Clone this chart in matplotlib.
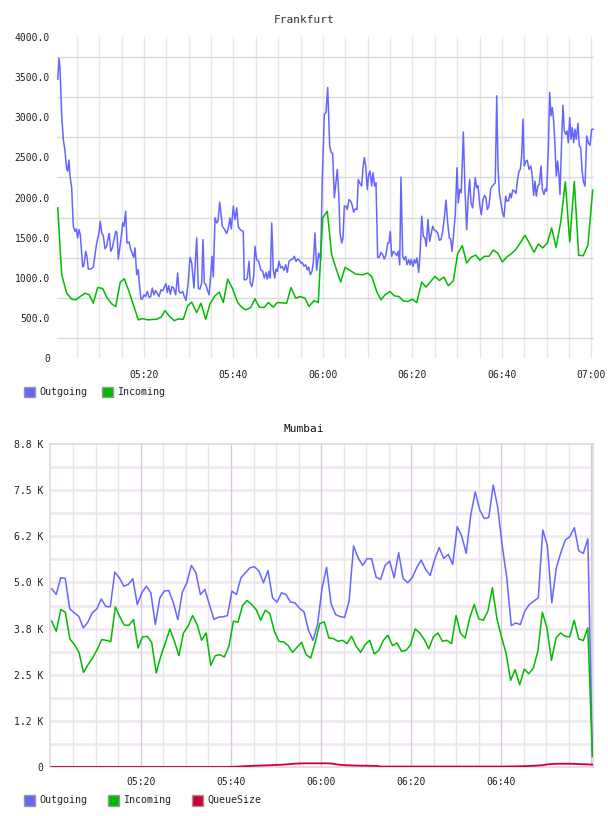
import numpy as np
import matplotlib
matplotlib.use('Agg')
import matplotlib.pyplot as plt
from matplotlib.patches import Rectangle

W, H = 608, 816

# Frankfurt: (minutes after 05:00, value)
fra_out = [(0.72,3475),(1.01,3733),(1.23,3608),(1.61,3017),(1.97,2725),(2.35,2579),(2.73,2350),(2.95,2329),(3.24,2467),(3.46,2267),(3.84,2121),(4.20,1642),(4.58,1579),(4.87,1608),(5.18,1496),(5.47,1600),(5.77,1537),(6.30,1133),(6.59,1158),(6.97,1329),(7.26,1267),(7.55,1108),(8.16,1108),(8.67,1133),(9.43,1433),(9.94,1558),(10.23,1704),(10.55,1558),(10.91,1525),(11.28,1362),(11.66,1392),(12.02,1508),(12.25,1550),(12.56,1329),(12.92,1371),(13.30,1475),(13.68,1579),(13.97,1558),(14.26,1233),(14.64,1392),(15.02,1558),(15.24,1683),(15.53,1642),(15.91,1829),(16.20,1433),(16.65,1446),(17.03,1350),(17.39,1300),(17.70,1254),(17.99,1371),(18.37,1037),(18.73,1100),(18.95,933),(19.33,733),(19.62,733),(20.00,787),(20.38,766),(20.74,829),(21.12,758),(21.50,766),(21.85,871),(22.23,787),(22.61,841),(22.97,808),(23.35,766),(23.80,850),(24.18,837),(24.54,883),(24.92,925),(25.21,816),(25.52,900),(25.88,796),(26.26,891),(26.64,871),(27.08,787),(27.53,1058),(27.82,829),(28.20,808),(28.65,829),(29.01,766),(29.39,716),(29.90,954),(30.28,1254),(30.66,1183),(31.17,871),(31.46,1183),(31.78,1496),(32.13,871),(32.51,858),(32.89,933),(33.18,1475),(33.48,933),(33.85,912),(34.15,850),(34.53,787),(34.90,1025),(35.20,1267),(35.49,1008),(35.87,1746),(36.25,1683),(36.54,1704),(36.92,1942),(37.21,1787),(37.50,1642),(37.94,1608),(38.48,1550),(38.93,1642),(39.22,1746),(39.51,1608),(39.96,1892),(40.34,1725),(40.72,1871),(41.07,1633),(41.61,1592),(42.19,1579),(42.41,975),(42.79,975),(43.08,996),(43.46,1204),(43.75,933),(44.13,891),(44.51,1016),(44.80,1392),(45.18,1225),(45.63,1204),(46.08,1100),(46.53,1079),(46.88,996),(47.26,1067),(47.55,983),(47.93,1079),(48.22,996),(48.54,1683),(48.89,1100),(49.21,996),(49.50,1108),(49.79,1079),(50.17,1204),(50.55,1121),(50.91,1142),(51.28,1092),(51.66,1162),(52.02,1067),(52.40,1204),(52.85,1225),(53.23,1233),(53.59,1267),(53.97,1204),(54.35,1233),(54.70,1217),(55.08,1183),(55.37,1192),(55.75,1142),(56.13,1162),(56.49,1100),(56.80,1133),(57.16,1037),(57.54,1079),(57.83,1183),(58.21,1558),(58.59,1092),(59.04,1308),(59.49,1225),(59.84,2225),(60.29,3037),(60.67,3058),(61.05,3371),(61.50,2642),(61.86,2558),(62.17,2550),(62.53,1996),(62.91,2204),(63.20,2350),(63.51,2058),(63.80,1558),(64.18,1433),(64.47,1496),(64.76,1892),(65.14,1892),(65.43,1850),(65.81,1975),(66.19,1954),(66.48,1912),(66.86,1817),(67.22,1858),(67.60,1850),(67.89,2225),(68.27,2175),(68.65,2142),(68.94,2371),(69.23,2496),(69.55,2392),(69.90,2100),(70.21,2287),(70.50,2329),(70.88,2142),(71.17,2308),(71.55,2142),(71.84,2183),(72.22,1254),(72.58,1254),(72.96,1317),(73.34,1287),(73.70,1233),(74.08,1287),(74.46,1433),(74.75,1433),(75.04,1579),(75.35,1267),(75.71,1329),(76.09,1308),(76.47,1275),(76.83,1329),(77.14,1162),(77.43,2254),(77.81,1267),(78.17,1225),(78.48,1267),(78.77,1162),(79.15,1225),(79.44,1162),(79.73,1225),(80.11,1142),(80.40,1225),(80.71,1183),(81.01,1246),(81.39,1067),(81.68,1287),(82.06,1767),(82.41,1517),(82.79,1496),(83.08,1392),(83.46,1725),(83.84,1454),(84.20,1558),(84.51,1642),(84.87,1592),(85.25,1583),(85.63,1558),(85.99,1467),(86.37,1475),(86.75,1579),(87.11,1746),(87.49,1967),(87.87,1683),(88.22,1496),(88.54,1483),(88.83,1329),(89.21,1558),(89.56,1787),(89.94,2371),(90.24,1933),(90.55,2100),(90.89,2058),(91.36,2815),(91.73,2100),(92.11,1600),(92.47,2017),(92.78,2225),(93.07,1933),(93.45,1871),(93.74,2058),(94.03,2246),(94.35,2121),(94.64,2150),(95.02,1912),(95.37,1787),(95.75,1975),(96.13,2025),(96.42,1996),(96.71,1850),(97.09,1892),(97.47,2108),(97.83,2142),(98.14,2162),(98.50,2183),(98.82,3267),(99.11,2392),(99.40,2058),(99.78,1933),(100.16,1800),(100.45,1758),(100.83,2017),(101.12,1954),(101.50,1962),(101.79,2050),(102.08,1996),(102.39,2092),(102.75,2083),(103.13,2050),(103.42,2204),(103.80,2329),(104.09,2350),(104.40,2517),(104.69,2975),(104.98,2392),(105.36,2454),(105.65,2463),(106.03,2350),(106.41,2392),(106.70,2308),(107.08,2025),(107.37,2204),(107.66,2017),(108.04,2150),(108.34,2162),(108.72,2392),(109.01,2100),(109.39,2037),(109.68,2108),(109.99,2079),(110.35,2600),(110.66,3308),(110.95,3017),(111.24,3121),(111.55,2954),(111.84,2642),(112.13,2267),(112.44,2454),(112.74,2267),(112.96,2037),(113.34,2725),(113.63,3150),(113.92,2829),(114.24,2787),(114.53,2829),(114.82,2683),(115.13,2996),(115.42,2725),(115.71,2871),(116.02,2683),(116.31,2850),(116.60,2725),(116.98,2925),(117.27,2642),(117.59,2621),(117.88,2350),(118.17,2204),(118.55,2142),(118.93,2767),(119.28,2683),(119.66,2650),(120.04,2850),(120.40,2850)]

fra_in = [(0.72,1871),(1.61,1037),(2.73,808),(3.84,733),(4.74,725),(5.77,766),(6.82,808),(7.78,787),(8.67,683),(9.65,879),(10.77,866),(11.66,758),(12.78,675),(13.68,641),(14.70,946),(15.60,987),(16.65,829),(17.70,650),(18.73,475),(19.62,491),(20.96,475),(21.85,480),(22.84,483),(23.80,508),(24.69,591),(25.59,525),(26.77,466),(27.66,487),(28.78,483),(29.77,650),(30.66,696),(31.78,566),(32.74,683),(33.79,483),(34.75,675),(35.87,775),(36.83,821),(37.72,691),(38.70,983),(39.73,871),(40.94,691),(41.83,633),(42.73,600),(43.84,629),(44.80,737),(45.77,633),(46.82,629),(47.78,691),(48.89,633),(49.79,691),(50.84,687),(51.89,683),(52.85,879),(53.90,746),(54.86,766),(55.98,746),(56.87,641),(57.99,716),(58.95,691),(59.93,1746),(60.96,1829),(61.94,1287),(62.91,1116),(63.96,946),(64.92,1129),(66.03,1091),(67.31,1046),(68.78,1037),(69.99,1058),(70.88,1016),(72.00,829),(72.96,725),(73.85,787),(74.97,829),(75.93,775),(76.98,766),(77.94,712),(78.93,704),(79.96,733),(80.94,691),(82.06,946),(83.02,883),(84.07,954),(85.03,1016),(85.99,966),(87.04,1008),(88.00,900),(89.12,962),(90.10,1300),(91.13,1400),(92.11,1183),(93.07,1254),(94.12,1283),(95.08,1217),(96.04,1267),(97.09,1267),(98.06,1346),(99.04,1308),(100.07,1196),(101.05,1258),(102.01,1296),(103.06,1350),(104.02,1429),(105.14,1529),(106.10,1433),(107.15,1317),(108.11,1421),(109.09,1371),(110.12,1433),(111.10,1621),(112.07,1379),(113.12,1692),(114.15,2196),(115.13,1446),(116.16,2200),(117.14,1279),(118.17,1275),(119.22,1412),(120.27,2092)]

fra_yticks = [0, 500, 1000, 1500, 2000, 2500, 3000, 3500, 4000]
fra_ylabels = ['0', '500.0', '1000.0', '1500.0', '2000.0', '2500.0', '3000.0', '3500.0', '4000.0']

# Mumbai: one sample a minute, first at 05:00:10, last at 07:00:18
mum_first, mum_last = 0.16, 120.3
mum_out = [4828, 4673, 5127, 5108, 4284, 4176, 4084, 3768, 3921, 4176,
           4284, 4550, 4350, 4339, 5280, 5127, 4899, 4945, 5099, 4400,
           4720, 4900, 4720, 3860, 4580, 4770, 4780, 4450, 3990, 4740,
           4990, 5460, 5260, 4670, 4810, 4400, 4000, 4057, 4070, 4100,
           4763, 4673, 5127, 5262, 5398, 5425, 5307, 4990, 5325, 4583,
           4465, 4719, 4673, 4465, 4447, 4300, 4200, 3700, 3430, 3860,
           4836, 5407, 4429, 4130, 4076, 4048, 4492, 5986, 5670, 5461,
           5643, 5643, 5143, 5081, 5461, 5578, 5127, 5806, 5108, 4990,
           5127, 5398, 5606, 5352, 5189, 5624, 5942, 5651, 5760, 5488,
           6513, 6257, 5787, 6820, 7453, 6964, 6730, 6757, 7635, 7029,
           5986, 5127, 3831, 3903, 3858, 4220, 4402, 4492, 4583, 6420,
           6005, 4450, 5398, 5806, 6149, 6241, 6485, 5851, 5787, 6186,
           300]
mum_in = [3949, 3677, 4266, 4193, 3469, 3315, 3106, 2563, 2771, 2952,
          3179, 3451, 3433, 3396, 4338, 4066, 3840, 3840, 3994, 3224,
          3523, 3541, 3378, 2545, 2998, 3360, 3740, 3405, 3016, 3632,
          3813, 4103, 3858, 3433, 3632, 2753, 3016, 3043, 2980, 3270,
          3949, 3922, 4374, 4510, 4402, 4266, 3976, 4248, 4157, 3677,
          3405, 3387, 3297, 3106, 3243, 3378, 3043, 2952,
          3378, 3885, 3931, 3496, 3478, 3405, 3433, 3342, 3541, 3270,
          3106, 3315, 3433, 3061, 3161, 3433, 3569, 3288, 3360, 3134,
          3161, 3315, 3740, 3632, 3451, 3206, 3523, 3632, 3405, 3433,
          3342, 4103, 3614, 3496, 4039, 4402, 4012, 3976, 4221, 4855,
          4012, 3523, 3088, 2346, 2635, 2228, 2653, 2527, 2680, 3134,
          4193, 3767, 2889, 3496, 3632, 3541, 3523, 3976, 3469, 3424,
          3767, 281]
mum_queue = [0] * 40 + [5, 10, 15, 22, 28, 34, 38, 42, 46, 50,
                        54, 62, 70, 80, 90, 95, 100, 100, 100, 100,
                        100, 100, 95, 75, 60, 50, 45, 40, 38, 36,
                        34, 32, 30] + [12] * 28 + [
                        14, 16, 18, 20, 24, 28, 34, 40, 50, 70,
                        82, 88, 88, 88, 88, 85, 80, 75, 70, 65]
mum_yticks = [0, 1250, 2500, 3750, 5000, 6250, 7500, 8750]
mum_ylabels = ['0', '1.2 K', '2.5 K', '3.8 K', '5.0 K', '6.2 K', '7.5 K', '8.8 K']

series_names = ['Outgoing', 'Incoming', 'QueueSize']
colors = ['#6666ff', '#00bb00', '#cc0033']
time_ticks = [20, 40, 60, 80, 100, 120]


def hhmm(m):
    return '%02d:%02d' % (5 + m // 60, m % 60)


def draw_legend(fig, y_px, names, cols, xs):
    for name, c, x in zip(names, cols, xs):
        fig.add_artist(Rectangle((x / W, 1 - (y_px + 5.5) / H), 11 / W, 11 / H,
                                 transform=fig.transFigure, facecolor=c,
                                 edgecolor='#999999', lw=1))
        fig.text((x + 15) / W, 1 - y_px / H, name, va='center', ha='left',
                 fontsize=7.2, color='#222222')


plt.rcParams['font.family'] = ['DejaVu Sans Mono']
fig = plt.figure(figsize=(W / 100, H / 100), dpi=100)

# ---------------- Frankfurt ----------------
ax1 = fig.add_axes([57 / W, 1 - 358 / H, (594 - 57) / W, (358 - 37) / H])
fo = np.array(fra_out)
fi = np.array(fra_in)
for m in range(5, 121, 5):
    ax1.axvline(m, color='#e6e6e6', lw=1, zorder=0)
for v in range(250, 4000, 500):
    ax1.axhline(v, color='#dadada', lw=1, zorder=0)
ax1.plot(fo[:, 0], fo[:, 1], color=colors[0], lw=1.1, zorder=3)
ax1.plot(fi[:, 0], fi[:, 1], color=colors[1], lw=1.1, zorder=4)
ax1.set_xlim(0.56, 120.56)
ax1.set_ylim(0, 4000)
ax1.set_yticks(fra_yticks)
ax1.set_yticklabels(fra_ylabels)
ax1.set_xticks(time_ticks)
ax1.set_xticklabels([hhmm(m) for m in time_ticks])
ax1.tick_params(axis='y', length=0, pad=5, labelsize=7, labelcolor='#222222')
ax1.tick_params(axis='x', length=0, pad=9, labelsize=7, labelcolor='#222222')
for s in ax1.spines.values():
    s.set_visible(False)
fig.text(0.5, 1 - 20 / H, 'Frankfurt', ha='center', va='center', fontsize=8, color='#333333')
draw_legend(fig, 392, series_names[:2], colors[:2], [24, 102])

# ---------------- Mumbai ----------------
ax2 = fig.add_axes([50 / W, 1 - 767 / H, (593 - 50) / W, (767 - 444) / H])
t_out = np.linspace(mum_first, mum_last, len(mum_out))
t_in = np.linspace(mum_first, mum_last, len(mum_in))
t_q = np.linspace(mum_first, mum_last, len(mum_queue))
for v in range(625, 8750, 625):
    ax2.axhline(v, color='#f1e7f1', lw=1.8, zorder=0)
for m in range(5, 121, 5):
    if m % 20 == 0:
        ax2.axvline(m, color='#dcc8de', lw=1, zorder=1)
    else:
        ax2.axvline(m, color='#ebe3eb', lw=1, zorder=0)
ax2.plot(t_out, mum_out, color=colors[0], lw=1.1, zorder=3)
ax2.plot(t_in, mum_in, color=colors[1], lw=1.1, zorder=4)
ax2.plot(t_q, mum_queue, color=colors[2], lw=1.3, zorder=5)
ax2.set_xlim(-0.22, 120.44)
ax2.set_ylim(0, 8750)
ax2.set_yticks(mum_yticks)
ax2.set_yticklabels(mum_ylabels)
ax2.set_xticks(time_ticks[:-1])
ax2.set_xticklabels([hhmm(m) for m in time_ticks[:-1]])
ax2.tick_params(axis='y', length=0, pad=4.5, labelsize=7, labelcolor='#222222')
ax2.tick_params(axis='x', length=0, pad=7.5, labelsize=7, labelcolor='#222222')
for s in ax2.spines.values():
    s.set_color('#e4d4e6')
    s.set_linewidth(1.2)
fig.text(0.5, 1 - 429 / H, 'Mumbai', ha='center', va='center', fontsize=8, color='#111111')
draw_legend(fig, 800, series_names, colors, [24, 108, 192])

fig.savefig('out.png', dpi=100)
